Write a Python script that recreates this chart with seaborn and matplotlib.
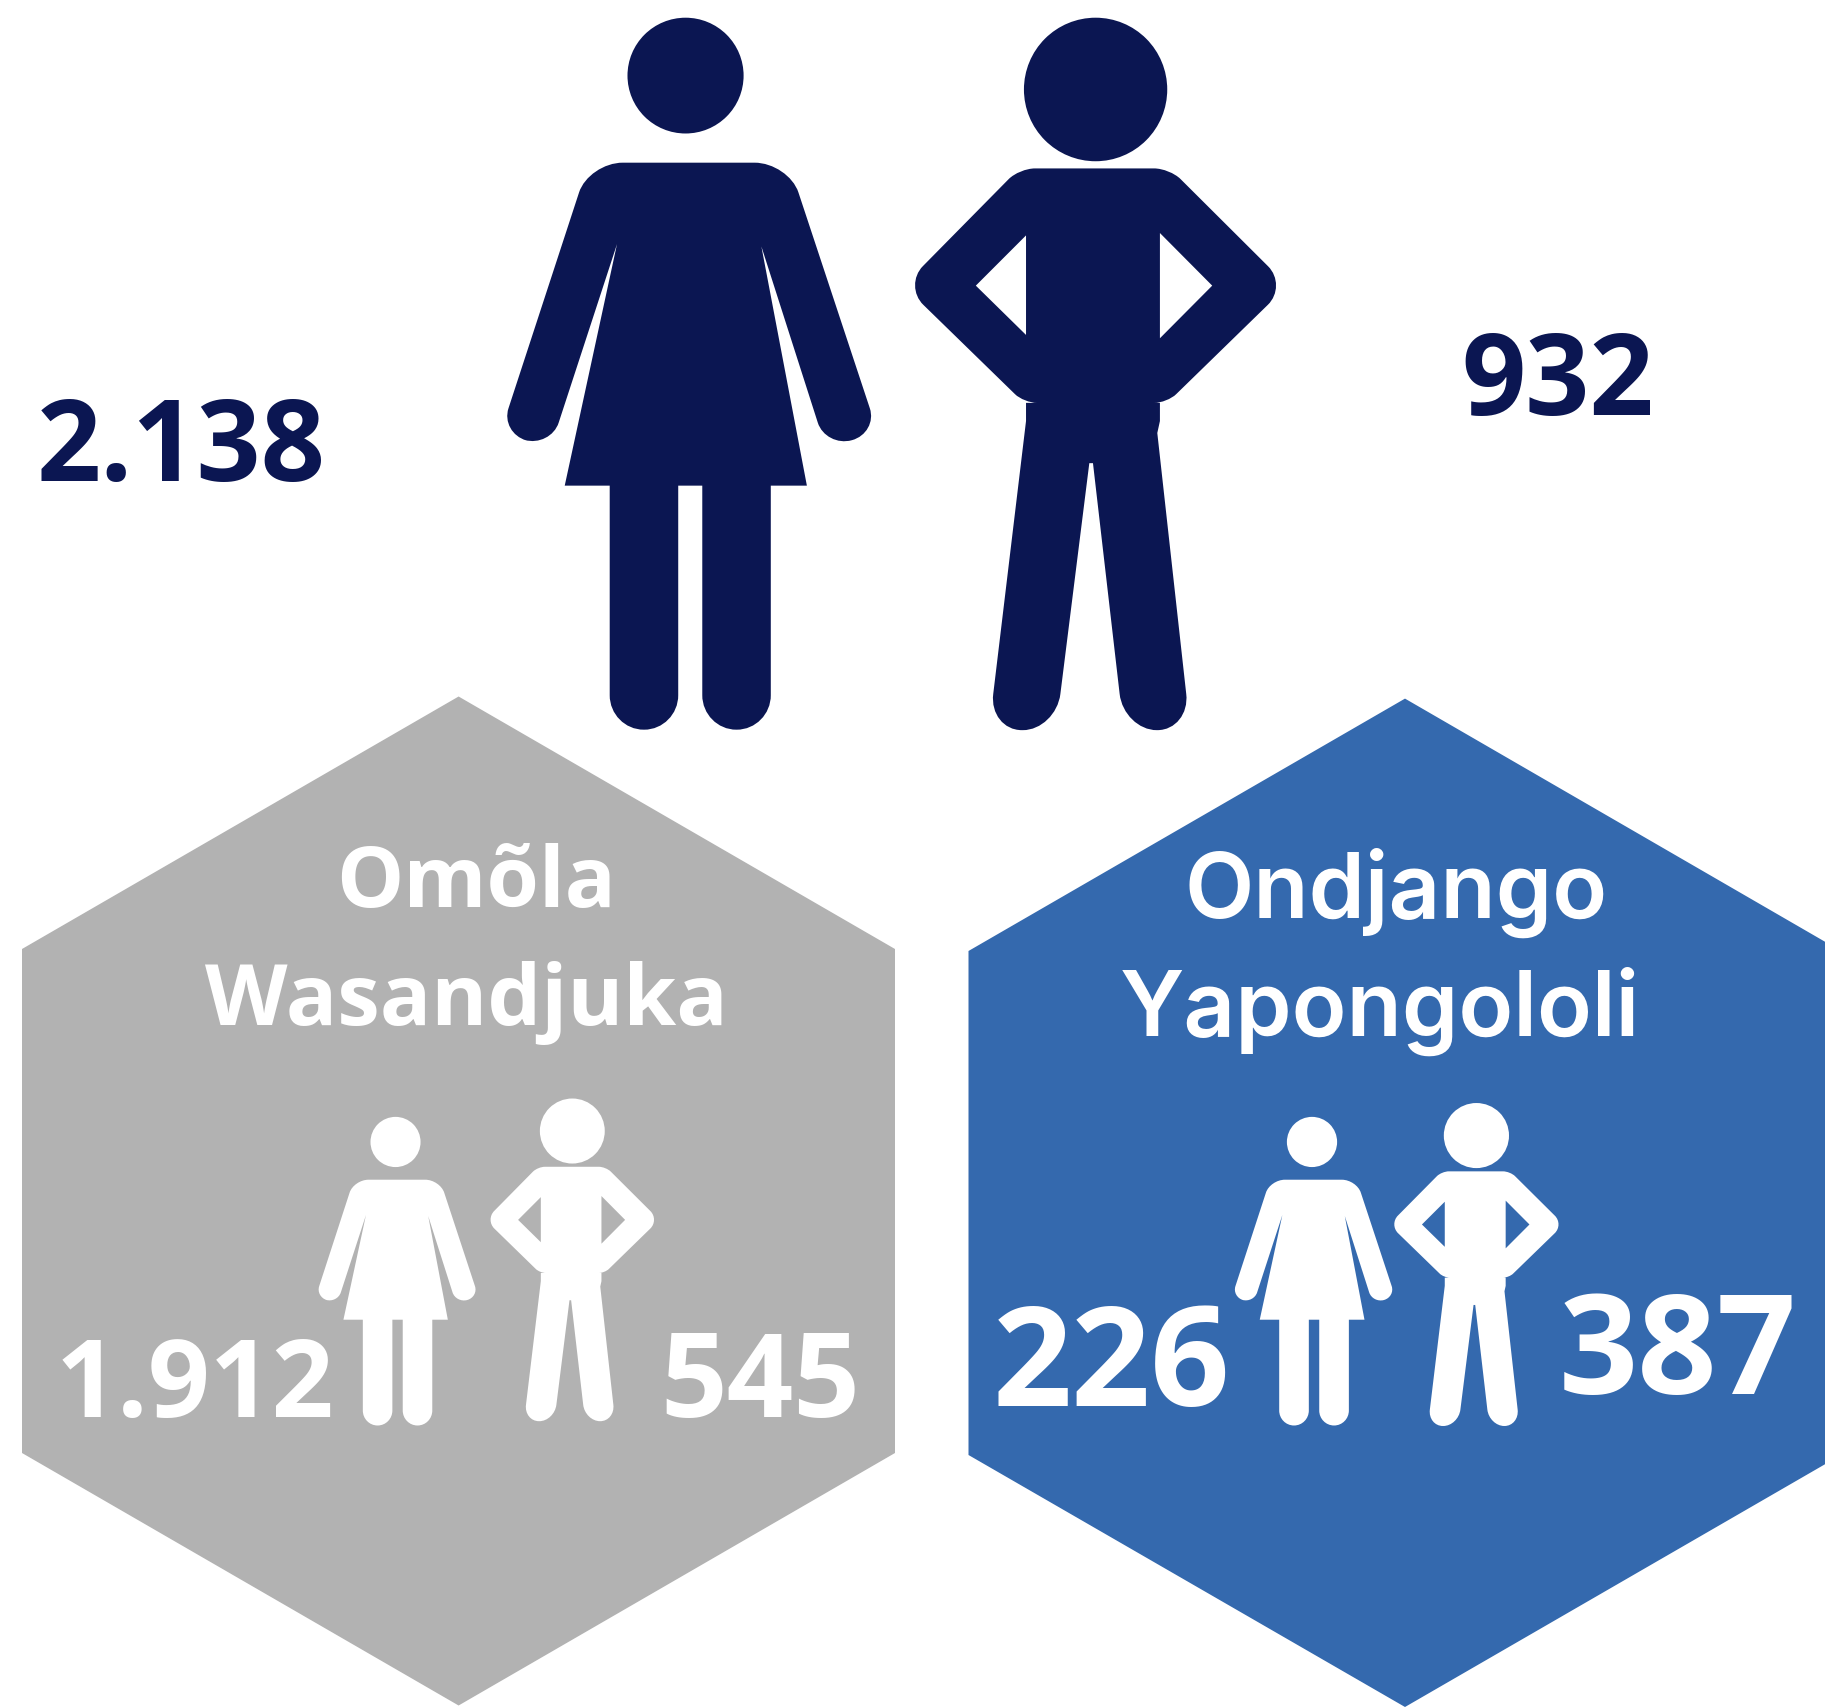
import numpy as np
import seaborn as sns
import matplotlib.pyplot as plt
from matplotlib.path import Path
from matplotlib.patches import PathPatch
from matplotlib.transforms import Affine2D

# values as printed on the picture
total_labels = ["2.138", "932"]
wasandjuka_labels = ["1.912", "545"]
yapongololi_labels = ["226", "387"]
group_a_title = ["Omõla", "Wasandjuka"]
group_b_title = ["Ondjango", "Yapongololi"]

sns.set_theme(style="white")
navy, grey, blue = sns.color_palette(["#0B1652", "#B2B2B2", "#3469AE"])
plt.rcParams["font.family"] = ["Open Sans", "DejaVu Sans"]

# icon outlines: x, y, corner radius towards previous point, towards next point
woman_outline = [
    (208, 340, 65, 65), (590, 340, 65, 65), (761, 905, 54, 52), (661, 935, 52, 54), (538, 515, 0, 0),
    (625, 1015, 0, 0), (556, 1015, 0, 0), (556, 1525, 72, 65), (425, 1525, 65, 72), (425, 1015, 0, 0),
    (379, 1015, 0, 0), (379, 1525, 72, 65), (248, 1525, 65, 72), (248, 1015, 0, 0), (162, 1015, 0, 0),
    (262, 510, 0, 0), (135, 935, 54, 52), (39, 905, 52, 54),
]
man_outline = [
    (1031, 352, 30, 30), (1319, 352, 30, 30), (1544, 597, 55, 55), (1314, 842, 25, 25), (1300, 842, 0, 0),
    (1300, 880, 0, 0), (1295, 905, 0, 0), (1358, 1526, 76, 63), (1231, 1526, 63, 76), (1172, 968, 0, 0),
    (1165, 968, 0, 0), (1101, 1526, 76, 63), (973, 1526, 63, 76), (1044, 880, 0, 0), (1044, 842, 0, 0),
    (1040, 842, 25, 25), (810, 597, 55, 55),
]
man_holes = [
    [(1044, 492), (948, 597), (1044, 700)],
    [(1300, 487), (1300, 707), (1400, 597)],
]


def rounded_path(points):
    verts, codes = [], []
    n = len(points)
    for i, (x, y, r1, r2) in enumerate(points):
        v = np.array([x, y], dtype=float)
        if r1 == 0:
            verts.append(v)
            codes.append(Path.LINETO if i else Path.MOVETO)
            continue
        prev = np.array(points[i - 1][:2], dtype=float)
        nxt = np.array(points[(i + 1) % n][:2], dtype=float)
        a = v + r1 * (prev - v) / np.linalg.norm(prev - v)
        b = v + r2 * (nxt - v) / np.linalg.norm(nxt - v)
        verts += [a, a + (v - a) * 0.55, b + (v - b) * 0.55, b]
        codes += [Path.LINETO if i else Path.MOVETO, Path.CURVE4, Path.CURVE4, Path.CURVE4]
    verts.append(verts[0])
    codes.append(Path.CLOSEPOLY)
    return Path(verts, codes)


def head_path(cx, cy, rx, ry):
    return Path.unit_circle().transformed(Affine2D().scale(rx, ry).translate(cx, cy))


def hole_path(points):
    return Path(list(points) + [points[0]], [Path.MOVETO] + [Path.LINETO] * (len(points) - 1) + [Path.CLOSEPOLY])


woman_icon = Path.make_compound_path(head_path(393, 158, 111, 121), rounded_path(woman_outline))
man_icon = Path.make_compound_path(head_path(1177, 187, 137, 150), rounded_path(man_outline),
                                   *[hole_path(h) for h in man_holes])


def draw_icon(ax, icon, sx, sy, tx, ty, color):
    path = icon.transformed(Affine2D().scale(sx, sy).translate(tx, ty))
    ax.add_patch(PathPatch(path, facecolor=color, edgecolor="none"))


fig, ax = plt.subplots(figsize=(18.25, 17.08), dpi=100)
fig.subplots_adjust(0, 0, 1, 1)
ax.set_xlim(0, 1825)
ax.set_ylim(1708, 0)
ax.axis("off")

# hexagons
ax.fill([458.6, 895, 895, 458.6, 22, 22], [697.5, 950, 1454, 1706.5, 1454, 950], color=grey, lw=0)
ax.fill([1405, 1841, 1841, 1405, 968.5, 968.5], [699.6, 952, 1456, 1708, 1456, 952], color=blue, lw=0)

# people
draw_icon(ax, woman_icon, 1 / 1.912, 1 / 2.09, 480, 1, navy)
draw_icon(ax, man_icon, 1 / 1.912, 1 / 2.09, 480, 1, navy)
draw_icon(ax, woman_icon, 0.2255, 0.2074, 306.9, 1110.2, "white")
draw_icon(ax, man_icon, 0.2368, 0.2167, 293.6, 1091.5, "white")
draw_icon(ax, woman_icon, 0.2262, 0.2074, 1223.1, 1110.2, "white")
draw_icon(ax, man_icon, 0.2379, 0.2169, 1196.4, 1096, "white")

# numbers
num = dict(fontweight="bold", ha="center", va="baseline")
ax.text(181, 481, total_labels[0], fontsize=81, color=navy, **num)
ax.text(1558, 415, total_labels[1], fontsize=81, color=navy, **num)
ax.text(195, 1417, wasandjuka_labels[0], fontsize=78, color="white", **num)
ax.text(760, 1417, wasandjuka_labels[1], fontsize=84, color="white", **num)
ax.text(1112, 1406, yapongololi_labels[0], fontsize=100, color="white", **num)
ax.text(1678, 1394, yapongololi_labels[1], fontsize=100, color="white", **num)

# group titles
ax.text(476, 907, group_a_title[0], fontsize=61, color="white", **num)
ax.text(466, 1025, group_a_title[1], fontsize=61.5, color="white", **num)
title_b = dict(fontsize=65, fontweight="semibold", color="white", family="Inter", ha="center", va="baseline")
ax.text(1396, 918, group_b_title[0], **title_b)
ax.text(1380, 1036, group_b_title[1], **title_b)

fig.savefig("out.png", dpi=100, facecolor="white")
